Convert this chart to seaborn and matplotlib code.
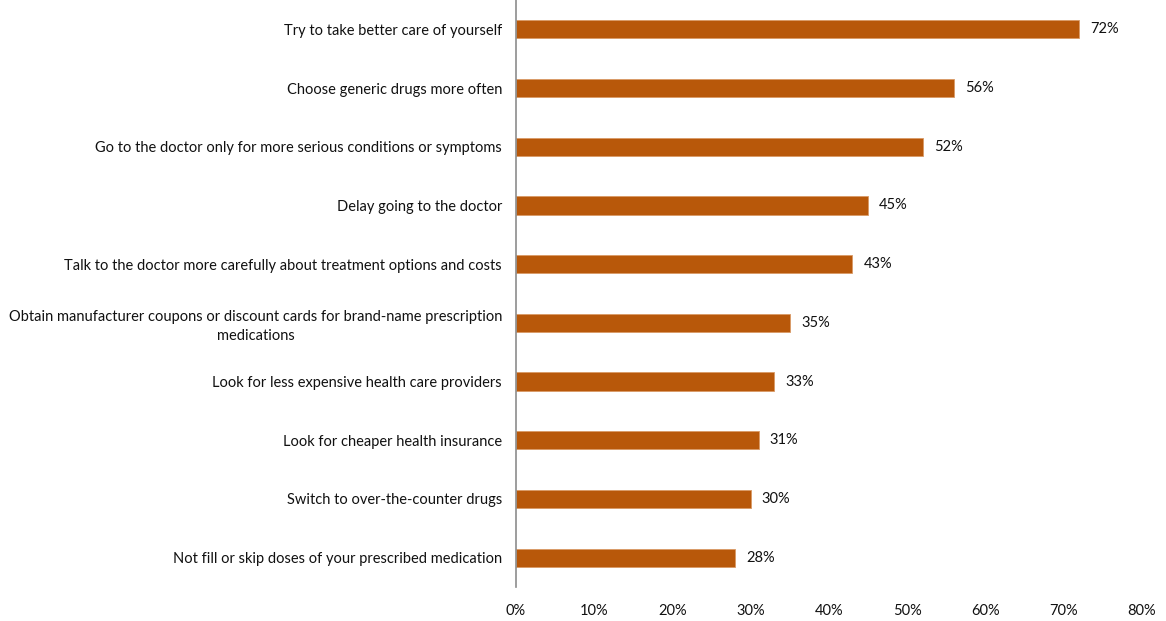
import pandas as pd
import matplotlib.pyplot as plt
import seaborn as sns

# Chart data
actions = [
    "Try to take better care of yourself",
    "Choose generic drugs more often",
    "Go to the doctor only for more serious conditions or symptoms",
    "Delay going to the doctor",
    "Talk to the doctor more carefully about treatment options and costs",
    "Obtain manufacturer coupons or discount cards for brand-name prescription\nmedications",
    "Look for less expensive health care providers",
    "Look for cheaper health insurance",
    "Switch to over-the-counter drugs",
    "Not fill or skip doses of your prescribed medication",
]
shares = [72, 56, 52, 45, 43, 35, 33, 31, 30, 28]
x_ticks = [0, 10, 20, 30, 40, 50, 60, 70, 80]

df = pd.DataFrame({"action": actions, "share": shares})

sns.set_style("white")
plt.rcParams["font.family"] = ["Lato", "DejaVu Sans"]

fig = plt.figure(figsize=(11.66, 6.21), dpi=100)
ax = fig.add_axes([0.4425, 0.0547, 0.5369, 0.9453])

sns.barplot(data=df, x="share", y="action", orient="h", color="#B8580A",
            width=0.31, edgecolor="#D99A66", linewidth=0.6, saturation=1, ax=ax)

# Value labels to the right of each bar
for c in ax.containers:
    ax.bar_label(c, labels=[f"{v}%" for v in shares], padding=8, fontsize=10.5, color="#111111")

ax.set_xlim(0, 80)
ax.set_ylim(len(actions) - 0.5, -0.5)
ax.set_xticks(x_ticks)
ax.set_xticklabels([f"{t}%" for t in x_ticks])
ax.set_xlabel("")
ax.set_ylabel("")
ax.tick_params(axis="x", length=0, pad=12, labelsize=10.5, labelcolor="#111111")
ax.tick_params(axis="y", length=0, pad=10, labelsize=10.5, labelcolor="#111111")
for lbl in ax.get_yticklabels():
    lbl.set_multialignment("center")
    lbl.set_linespacing(1.45)

for side in ["top", "right", "bottom"]:
    ax.spines[side].set_visible(False)
ax.spines["left"].set_color("#8C8C8C")
ax.spines["left"].set_linewidth(1.2)

fig.savefig("out.png", dpi=100)
